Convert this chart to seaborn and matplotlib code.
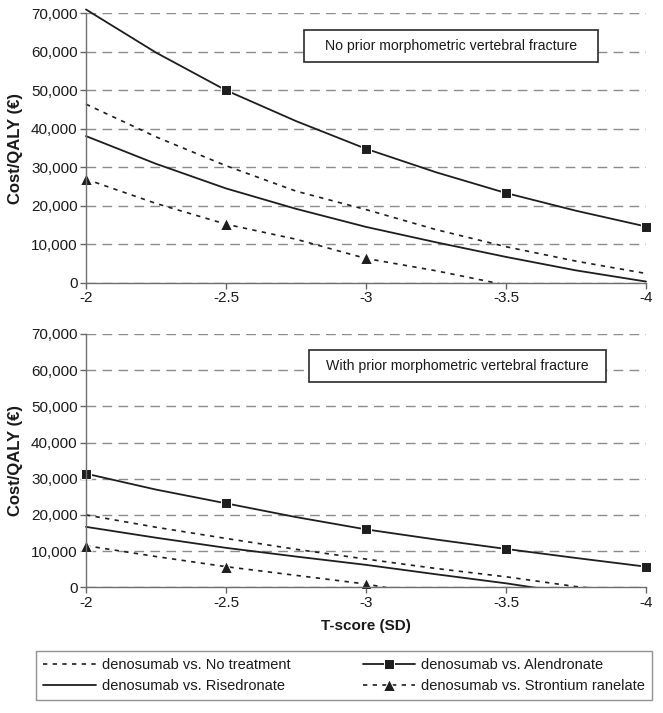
import matplotlib
matplotlib.use('Agg')
import matplotlib.pyplot as plt
import numpy as np
import seaborn as sns
from matplotlib.patches import Rectangle
from matplotlib.transforms import Bbox, TransformedBbox

nan = np.nan

# T-score positions (every quarter SD)
t_score = [-2, -2.25, -2.5, -2.75, -3, -3.25, -3.5, -3.75, -4]
x_ticks = [-2, -2.5, -3, -3.5, -4]
x_labels = ['-2', '-2.5', '-3', '-3.5', '-4']
y_ticks = [0, 10000, 20000, 30000, 40000, 50000, 60000, 70000]
y_labels = ['0', '10,000', '20,000', '30,000', '40,000', '50,000', '60,000', '70,000']

# No prior morphometric vertebral fracture
no_tx_noprior = [46400, 37900, 30400, 23800, 19000, 13800, 9350, 5600, 2400]
alen_noprior = [71000, 59800, 50000, 42000, 34800, 28700, 23300, 18700, 14600]
rise_noprior = [38100, 30900, 24500, 19200, 14500, 10500, 6700, 3200, 300]
stron_noprior = [26900, 20600, 15200, 11300, 6300, 3100, -600, nan, nan]

# With prior morphometric vertebral fracture
no_tx_prior = [20000, 16600, 13500, 10500, 7800, 5200, 2900, 200, -1800]
alen_prior = [31400, 27000, 23200, 19400, 16000, 13200, 10600, 8100, 5700]
rise_prior = [16700, 13700, 10900, 8500, 6200, 3600, 1100, -1800, -4500]
stron_prior = [11500, 8500, 5700, 3300, 900, -2500, nan, nan, nan]

labels = ['denosumab vs. No treatment', 'denosumab vs. Alendronate',
          'denosumab vs. Risedronate', 'denosumab vs. Strontium ranelate']
panel_titles = ['No prior morphometric vertebral fracture',
                'With prior morphometric vertebral fracture']

sns.set_theme(style='white')
plt.rcParams['font.family'] = ['Liberation Sans', 'DejaVu Sans']

INK = '#1e1e1e'
DOTS = (0, (2.6, 3.2))

fig = plt.figure(figsize=(6.63, 7.13), dpi=100)
ax_top = fig.add_axes([0.1297, 0.6035, 0.8447, 0.3778])
ax_bot = fig.add_axes([0.1297, 0.1763, 0.8447, 0.3553])


def draw_panel(ax, no_tx, alen, rise, stron, alen_marks, stron_marks, title, box):
    sns.lineplot(x=t_score, y=no_tx, ax=ax, sort=False, color=INK, lw=1.2,
                 linestyle=DOTS, label=labels[0])
    sns.lineplot(x=t_score, y=alen, ax=ax, sort=False, color=INK, lw=1.3,
                 marker='s', markersize=6.8, markevery=alen_marks, label=labels[1])
    sns.lineplot(x=t_score, y=rise, ax=ax, sort=False, color=INK, lw=1.3,
                 label=labels[2])
    sns.lineplot(x=t_score, y=stron, ax=ax, sort=False, color=INK, lw=1.2,
                 linestyle=DOTS, marker='^', markersize=8, markevery=stron_marks,
                 label=labels[3])
    if ax.get_legend() is not None:
        ax.get_legend().remove()

    # clip below zero but let the end markers sit on the plot edges
    clip = TransformedBbox(Bbox([[-0.03, -0.004], [1.03, 1.03]]), ax.transAxes)
    for ln in ax.get_lines():
        ln.set_clip_box(clip)

    ax.set_xlim(-2, -4)
    ax.set_ylim(0, 70000)
    ax.set_xticks(x_ticks)
    ax.set_xticklabels(x_labels)
    ax.set_yticks(y_ticks)
    ax.set_yticklabels(y_labels)
    ax.tick_params(axis='both', labelsize=11, colors='#666666', labelcolor='#1a1a1a',
                   length=4, width=1, direction='out', bottom=True, left=True, pad=2)
    ax.yaxis.grid(True, linestyle=(0, (7, 4.5)), color='#8c8c8c', lw=1)
    ax.xaxis.grid(False)
    ax.set_axisbelow(True)
    for side in ['top', 'right']:
        ax.spines[side].set_visible(False)
    for side in ['left', 'bottom']:
        ax.spines[side].set_color('#6e6e6e')
        ax.spines[side].set_linewidth(1)

    ax.set_ylabel('Cost/QALY (€)', fontsize=12, fontweight='bold', color='#1a1a1a')
    ax.yaxis.set_label_coords(-0.113, 0.5)
    ax.set_xlabel('')

    x0, y0, x1, y1 = box
    ax.add_patch(Rectangle((x0, y0), x1 - x0, y1 - y0, transform=ax.transAxes,
                           facecolor='white', edgecolor='#2a2a2a', lw=1.2, zorder=5))
    ax.text((x0 + x1) / 2, (y0 + y1) / 2, title, transform=ax.transAxes,
            ha='center', va='center', fontsize=10.2, color='#1a1a1a', zorder=6)


draw_panel(ax_top, no_tx_noprior, alen_noprior, rise_noprior, stron_noprior,
           [2, 4, 6, 8], [0, 2, 4], panel_titles[0], (0.389, 0.819, 0.914, 0.938))
draw_panel(ax_bot, no_tx_prior, alen_prior, rise_prior, stron_prior,
           [0, 2, 4, 6, 8], [0, 2, 4], panel_titles[1], (0.398, 0.810, 0.929, 0.937))

ax_bot.set_xlabel('T-score (SD)', fontsize=11, fontweight='bold', color='#1a1a1a',
                  labelpad=7)

handles, labs = ax_bot.get_legend_handles_labels()
order = [0, 2, 1, 3]
leg = fig.legend([handles[i] for i in order], [labs[i] for i in order],
                 ncol=2, loc='center', mode='expand',
                 bbox_to_anchor=(36 / 663, 11 / 713, 616 / 663, 53 / 713),
                 fontsize=10.5, frameon=True, fancybox=False, handlelength=3.6,
                 handletextpad=0.4, borderpad=0.5, labelspacing=0.45,
                 columnspacing=2.5, borderaxespad=0)
leg.get_frame().set_edgecolor('#777777')
leg.get_frame().set_linewidth(1)
for t in leg.get_texts():
    t.set_color('#1a1a1a')

fig.savefig('out.png', dpi=100)
